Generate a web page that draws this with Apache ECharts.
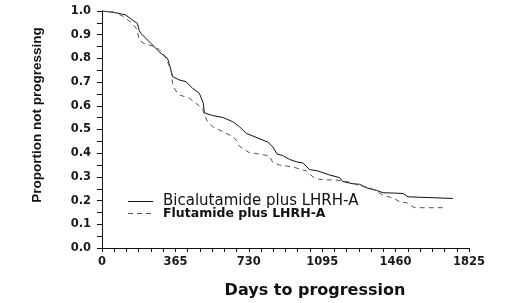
<!DOCTYPE html>
<html>
<head>
<meta charset="utf-8">
<script src="https://cdn.jsdelivr.net/npm/echarts@6/dist/echarts.min.js"></script>
<style>
html,body{margin:0;padding:0;background:#fff;}
#c{width:513px;height:303px;}
</style>
</head>
<body>
<div id="c"></div>
<script>
const seriesNames = ['Bicalutamide plus LHRH-A', 'Flutamide plus LHRH-A'];
const xTickValues = [0, 365, 730, 1095, 1460, 1825];
const yTickLabels = ['0.0','0.1','0.2','0.3','0.4','0.5','0.6','0.7','0.8','0.9','1.0'];

const bicaDays = [0, 68, 118, 151, 176, 184, 193, 218, 251, 284, 326, 343, 351, 384, 417, 450, 484, 504, 509, 550, 600, 650, 683, 717, 766, 824, 849, 870, 899, 932, 966, 999, 1032, 1073, 1132, 1182, 1198, 1248, 1281, 1315, 1365, 1398, 1447, 1497, 1522, 1531, 1745];
const bicaProp = [1.0, 0.993, 0.983, 0.962, 0.948, 0.920, 0.906, 0.885, 0.857, 0.828, 0.800, 0.751, 0.723, 0.709, 0.702, 0.674, 0.653, 0.611, 0.570, 0.559, 0.551, 0.533, 0.512, 0.484, 0.467, 0.447, 0.427, 0.397, 0.390, 0.374, 0.364, 0.359, 0.331, 0.325, 0.308, 0.297, 0.280, 0.271, 0.269, 0.254, 0.243, 0.233, 0.232, 0.230, 0.216, 0.209, 0.209];

const fluDays = [0, 51, 101, 151, 176, 184, 209, 259, 284, 309, 326, 343, 351, 364, 384, 434, 467, 500, 509, 525, 550, 600, 650, 675, 683, 708, 733, 783, 833, 849, 883, 949, 1016, 1049, 1082, 1173, 1215, 1248, 1281, 1331, 1355, 1398, 1447, 1489, 1514, 1531, 1556, 1700];
const fluProp = [1.0, 0.997, 0.979, 0.948, 0.920, 0.878, 0.863, 0.850, 0.838, 0.814, 0.786, 0.751, 0.695, 0.667, 0.646, 0.632, 0.611, 0.589, 0.561, 0.533, 0.512, 0.491, 0.470, 0.449, 0.430, 0.416, 0.402, 0.397, 0.388, 0.361, 0.350, 0.342, 0.325, 0.300, 0.289, 0.286, 0.281, 0.274, 0.262, 0.254, 0.245, 0.222, 0.211, 0.192, 0.192, 0.181, 0.170, 0.170];

const zip = (a, b) => a.map((v, i) => [v, b[i]]);

const chart = echarts.init(document.getElementById('c'), null, {renderer: 'canvas'});
const tickFont = {fontFamily: 'DejaVu Sans', fontWeight: 'bold', fontSize: 11.5, color: '#1a1a1a'};
const solidColor = '#111';
const dashColor = '#555';

chart.setOption({
  animation: false,
  backgroundColor: '#ffffff',
  grid: {left: 102, top: 11, width: 367, height: 237, containLabel: false},
  xAxis: {
    type: 'value', min: 0, max: 1825, interval: 365,
    axisLine: {show: true, lineStyle: {color: '#111', width: 1}},
    axisTick: {show: true, length: 4, lineStyle: {color: '#111'}},
    minorTick: {show: true, splitNumber: 6, length: 4, lineStyle: {color: '#111'}},
    splitLine: {show: false},
    axisLabel: Object.assign({margin: 8, formatter: v => xTickValues.includes(Math.round(v)) ? String(Math.round(v)) : ''}, tickFont)
  },
  yAxis: {
    type: 'value', min: 0, max: 1, interval: 0.1,
    axisLine: {show: true, lineStyle: {color: '#111', width: 1}},
    axisTick: {show: true, length: 5, lineStyle: {color: '#111'}},
    minorTick: {show: true, splitNumber: 2, length: 5, lineStyle: {color: '#111'}},
    splitLine: {show: false},
    axisLabel: Object.assign({margin: 11, formatter: v => yTickLabels[Math.round(v * 10)]}, tickFont)
  },
  series: [
    {
      name: seriesNames[0], type: 'line', symbol: 'none', silent: true,
      data: zip(bicaDays, bicaProp),
      lineStyle: {color: solidColor, width: 1, type: 'solid'}
    },
    {
      name: seriesNames[1], type: 'line', symbol: 'none', silent: true,
      data: zip(fluDays, fluProp),
      lineStyle: {color: dashColor, width: 1, type: [5, 4]}
    }
  ],
  graphic: [
    {
      type: 'line', shape: {x1: 128, y1: 201.5, x2: 153, y2: 201.5},
      style: {stroke: solidColor, lineWidth: 1}
    },
    {
      type: 'text', x: 163, y: 201,
      style: {text: seriesNames[0], font: 'normal 15px "DejaVu Sans"', fill: '#111', verticalAlign: 'middle'}
    },
    {
      type: 'line', shape: {x1: 128, y1: 213.5, x2: 152, y2: 213.5},
      style: {stroke: dashColor, lineWidth: 1, lineDash: [5, 4]}
    },
    {
      type: 'text', x: 163, y: 214,
      style: {text: seriesNames[1], font: 'bold 12.5px "DejaVu Sans"', fill: '#111', verticalAlign: 'middle'}
    },
    {
      type: 'text', x: 315, y: 291,
      style: {text: 'Days to progression', font: 'bold 16px "DejaVu Sans"', fill: '#111', align: 'center', verticalAlign: 'middle'}
    },
    {
      type: 'text', x: 37, y: 115, rotation: Math.PI / 2,
      style: {text: 'Proportion not progressing', font: 'bold 13.5px "Liberation Sans"', fill: '#111', align: 'center', verticalAlign: 'middle'}
    }
  ]
});
</script>
</body>
</html>
